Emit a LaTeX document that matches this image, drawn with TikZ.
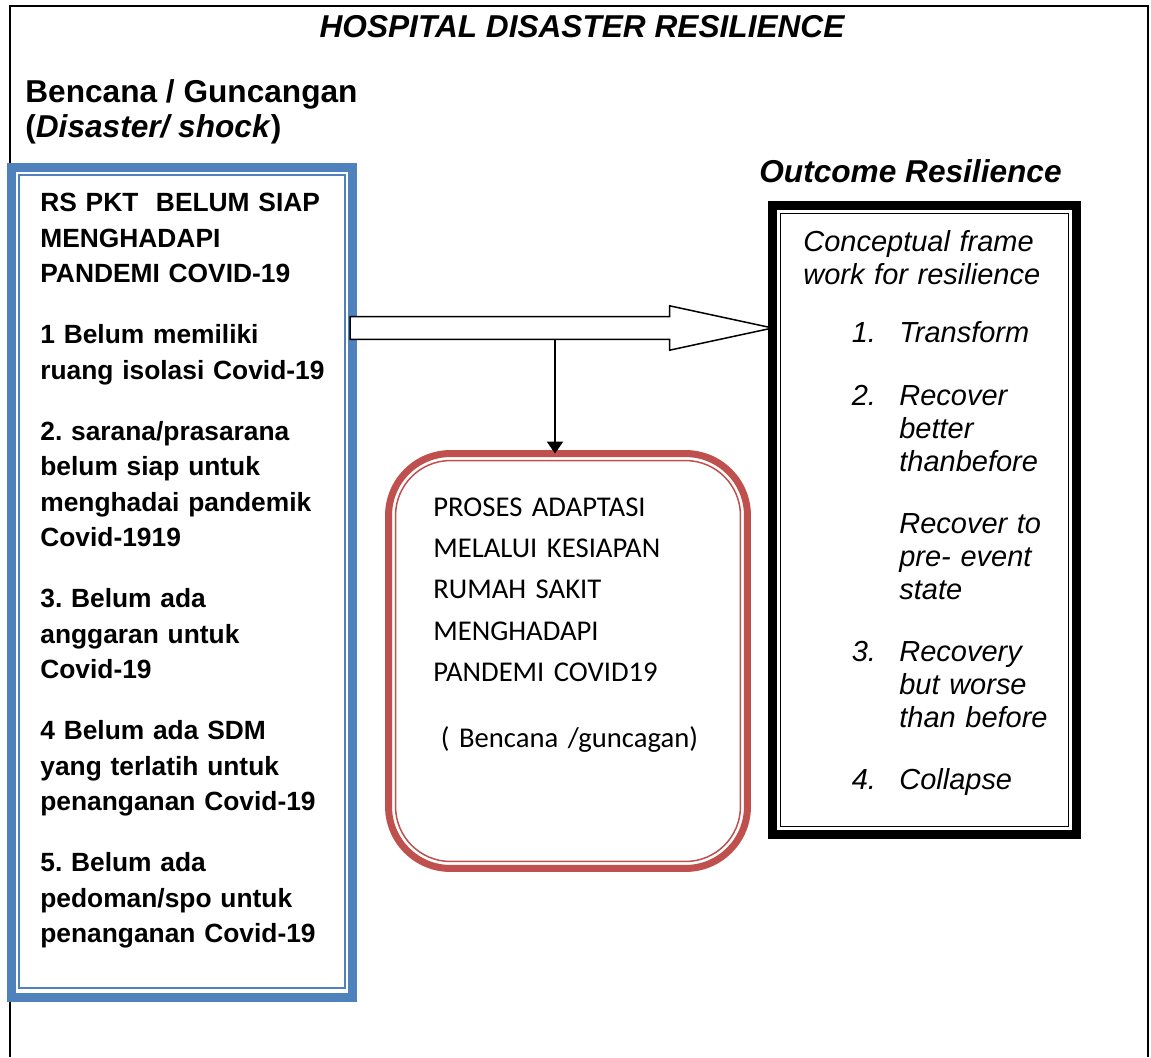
\documentclass[tikz,border=0pt]{standalone}
\usepackage{fontspec}
\setmainfont{Liberation Sans}
\newfontfamily\calibri{Carlito}
\usepackage{xcolor}
\usetikzlibrary{calc, positioning, arrows.meta}
\frenchspacing

\definecolor{boxblue}{RGB}{79,129,189}
\definecolor{boxred}{RGB}{192,80,77}

% indent helpers for the numbered outcomes
\newcommand{\ritem}[2]{\hspace*{9.7mm}\makebox[9.5mm][l]{#1}#2}
\newcommand{\rindent}{\hspace*{19.2mm}}

\begin{document}
\begin{tikzpicture}[x=0.02cm, y=-0.02cm,
    bluebox/.style={draw=boxblue, line width=0.18cm, fill=white, outer sep=0pt,
        minimum width=6.82cm, minimum height=16.6cm},
    redbox/.style={draw=boxred, line width=0.14cm, fill=white, outer sep=0pt,
        rounded corners=1.24cm, minimum width=7.18cm, minimum height=8.3cm},
    blackbox/.style={draw, line width=0.18cm, fill=white, outer sep=0pt,
        minimum width=6.08cm, minimum height=12.58cm},
    headtxt/.style={font=\fontsize{18}{21}\selectfont\bfseries, inner sep=0pt},
    boxtxt/.style={anchor=north west, inner sep=0pt, align=left, text width=6cm}]
    \useasboundingbox (0,0) rectangle (1151,1057);

    % Bingkai luar
    \draw[line width=0.045cm] (10,1057) -- (10,6) -- (1148,6) -- (1148,1057);

    % Judul
    \node[headtxt, font=\fontsize{18}{21}\selectfont\bfseries\itshape, anchor=base] (title) at (582,38)
        {HOSPITAL DISASTER RESILIENCE};
    \node[headtxt, anchor=base west] (shock) at (25,103) {Bencana / Guncangan};
    \node[headtxt, anchor=base west] (shocken) at (25,138) {(\textit{Disaster/ shock})};
    \node[headtxt, font=\fontsize{18}{21}\selectfont\bfseries\itshape, anchor=base west] (outhead) at (759,183)
        {Outcome Resilience};

    % Kotak kiri (biru)
    \node[bluebox] (lbox) at (182,582.5) {};
    \draw[boxblue, line width=0.04cm] ($(lbox.north west)+(7,7)$) rectangle ($(lbox.south east)+(-7,-9)$);
    \node[boxtxt, font=\fontsize{15}{20.2}\selectfont\bfseries] (ltext) at (40,187) {%
        \rule{0pt}{14pt}RS PKT\ \ BELUM SIAP\\
        MENGHADAPI\\
        PANDEMI COVID-19\\[14.5pt]
        1 Belum memiliki\\
        ruang isolasi Covid-19\\[14.5pt]
        2. sarana/prasarana\\
        belum siap untuk\\
        menghadai pandemik\\
        Covid-1919\\[14.5pt]
        3. Belum ada\\
        anggaran untuk\\
        Covid-19\\[14.5pt]
        4 Belum ada SDM\\
        yang terlatih untuk\\
        penanganan Covid-19\\[14.5pt]
        5. Belum ada\\
        pedoman/spo untuk\\
        penanganan Covid-19};

    % Kotak kanan (hitam)
    \node[blackbox] (rbox) at (924.5,520) {};
    \draw[line width=0.03cm] ($(rbox.north west)+(8,8)$) rectangle ($(rbox.south east)+(-8,-8)$);
    \node[boxtxt, font=\fontsize{16.5}{18.7}\selectfont\itshape] (rtext) at (803,226.3) {%
        \rule{0pt}{14pt}Conceptual frame\\
        work for resilience\\[14.8pt]
        \ritem{1.}{Transform}\\[16.8pt]
        \ritem{2.}{Recover}\\
        \rindent better\\
        \rindent thanbefore\\[16.8pt]
        \rindent Recover to\\
        \rindent pre- event\\
        \rindent state\\[16.8pt]
        \ritem{3.}{Recovery}\\
        \rindent but worse\\
        \rindent than before\\[16.8pt]
        \ritem{4.}{Collapse}};

    % Kotak tengah (merah)
    \node[redbox] (mbox) at (568,661) {};
    \draw[boxred, line width=0.03cm, rounded corners=1.1cm] ($(mbox.north west)+(7,7)$)
        rectangle ($(mbox.south east)+(-7,-7)$);
    \node[boxtxt, font=\fontsize{16.3}{23.5}\selectfont\calibri] (mtext) at (433,491.3) {%
        \rule{0pt}{14pt}PROSES ADAPTASI\\
        MELALUI KESIAPAN\\
        RUMAH SAKIT\\
        MENGHADAPI\\
        PANDEMI COVID19\\[14.1pt]
        \hspace*{1.5mm}( Bencana /guncagan)};

    % Panah blok
    \coordinate (arrtail) at (350,328);
    \coordinate (arrtip) at (rbox.west |- arrtail);
    \draw[line width=0.03cm, fill=white] ($(arrtail)+(0,-11.3)$) -- ($(arrtip)+(-103,-11.3)$)
        -- ($(arrtip)+(-103,-22.2)$) -- (arrtip) -- ($(arrtip)+(-103,22.2)$)
        -- ($(arrtip)+(-103,11.3)$) -- ($(arrtail)+(0,11.3)$) -- cycle;

    % Panah ke bawah
    \coordinate (arrdrop) at (555,339.3);
    \draw[-{Triangle[width=0.32cm, length=0.24cm]}, line width=0.045cm] (arrdrop) -- (arrdrop |- mbox.north);
\end{tikzpicture}
\end{document}
